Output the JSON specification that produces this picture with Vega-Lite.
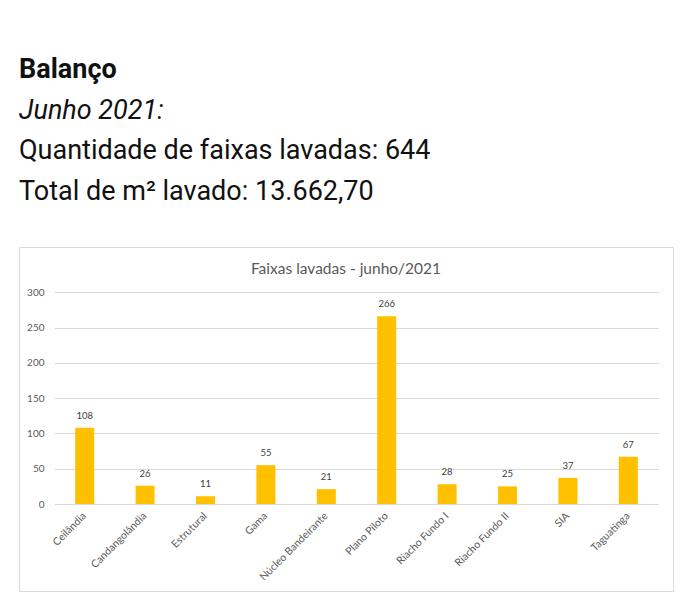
{
  "$schema": "https://vega.github.io/schema/vega-lite/v6.json",
  "padding": {"left": 18, "top": 0, "right": 0, "bottom": 0},
  "background": "white",
  "bounds": "flush",
  "spacing": 0,
  "config": {"view": {"stroke": null}, "font": "Lato"},
  "vconcat": [
    {
      "width": 654,
      "height": 247,
      "data": {"values": [
        {"order": 1, "line": "Balanço"},
        {"order": 2, "line": "Junho 2021:"},
        {"order": 3, "line": "Quantidade de faixas lavadas: 644"},
        {"order": 4, "line": "Total de m² lavado: 13.662,70"}
      ]},
      "encoding": {
        "x": {"datum": 0, "type": "quantitative", "scale": {"domain": [0, 1]}, "axis": null},
        "y": {"field": "order", "type": "ordinal", "scale": {"type": "point", "domain": [1, 2, 3, 4], "range": [78, 200], "padding": 0}, "axis": null},
        "text": {"field": "line"}
      },
      "layer": [
        {"transform": [{"filter": "datum.order == 1"}], "mark": {"type": "text", "align": "left", "baseline": "alphabetic", "font": "Roboto", "fontSize": 27, "fontWeight": "bold", "color": "#111111"}},
        {"transform": [{"filter": "datum.order == 2"}], "mark": {"type": "text", "align": "left", "baseline": "alphabetic", "font": "Roboto", "fontSize": 27, "fontStyle": "italic", "color": "#111111"}},
        {"transform": [{"filter": "datum.order > 2"}], "mark": {"type": "text", "align": "left", "baseline": "alphabetic", "font": "Roboto", "fontSize": 27, "color": "#111111"}}
      ]
    },
    {
      "width": 654,
      "height": 344,
      "view": {"stroke": "#d9d9d9", "strokeWidth": 1},
      "title": {"text": "Faixas lavadas - junho/2021", "frame": "group", "anchor": "middle", "offset": -30, "fontSize": 15.5, "fontWeight": "normal", "color": "#595959", "font": "Lato"},
      "data": {"values": [
        {"regiao": "Ceilândia", "faixas": 108},
        {"regiao": "Candangolândia", "faixas": 26},
        {"regiao": "Estrutural", "faixas": 11},
        {"regiao": "Gama", "faixas": 55},
        {"regiao": "Núcleo Bandeirante", "faixas": 21},
        {"regiao": "Plano Piloto", "faixas": 266},
        {"regiao": "Riacho Fundo I", "faixas": 28},
        {"regiao": "Riacho Fundo II", "faixas": 25},
        {"regiao": "SIA", "faixas": 37},
        {"regiao": "Taguatinga", "faixas": 67}
      ]},
      "encoding": {
        "x": {
          "field": "regiao", "type": "nominal", "sort": null,
          "scale": {"range": [35.5, 639.5], "paddingInner": 0.685, "paddingOuter": 0.3425},
          "axis": {"labelAngle": -45, "labelAlign": "right", "labelBaseline": "middle", "domain": false, "ticks": false, "offset": -87, "title": null, "labelFontSize": 10.5, "labelColor": "#595959", "labelPadding": 10, "grid": false, "labelFont": "Lato"}
        },
        "y": {
          "field": "faixas", "type": "quantitative",
          "scale": {"domain": [0, 300], "range": [257, 45.3], "nice": false},
          "axis": {"values": [0, 50, 100, 150, 200, 250, 300], "grid": true, "gridColor": "#d9d9d9", "domain": false, "ticks": false, "tickSize": 0, "labelPadding": 0, "offset": -25, "title": null, "labelFont": "Lato", "labelFontSize": 10, "labelColor": "#595959"}
        }
      },
      "layer": [
        {"mark": {"type": "bar", "color": "#FFC000"}},
        {"mark": {"type": "text", "baseline": "alphabetic", "dy": -9, "fontSize": 9.5, "color": "#404040", "font": "Lato"}, "encoding": {"text": {"field": "faixas"}}}
      ]
    }
  ]
}
